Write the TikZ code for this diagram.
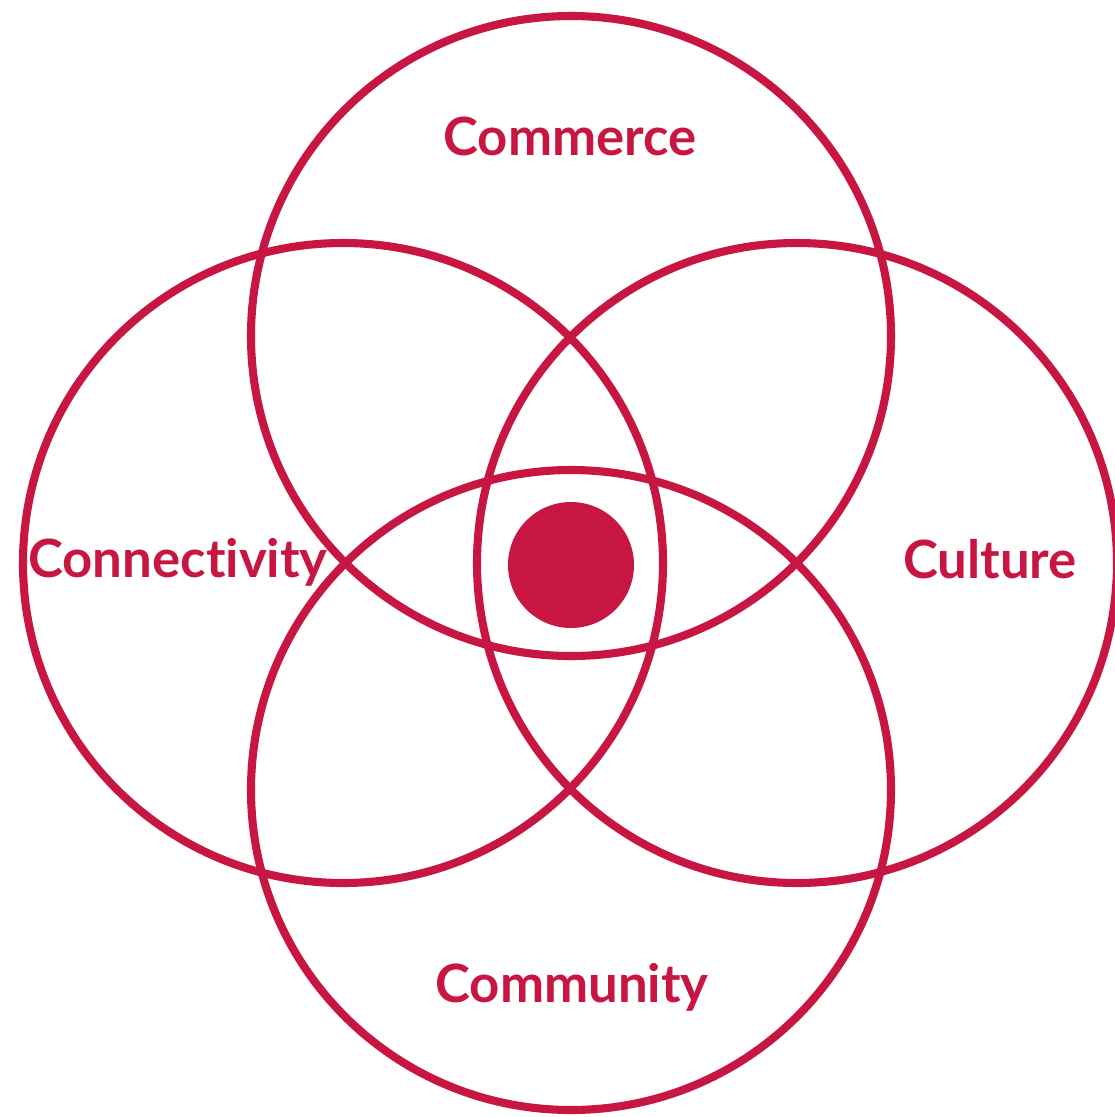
\documentclass[tikz,border=0pt]{standalone}
\usepackage{fontspec}
\setmainfont{Lato}[Ligatures=NoCommon]
\usepackage{tikz}
\usepackage{xcolor}
\definecolor{crimson}{RGB}{200,22,66}

\tikzset{
  ring/.style={draw=crimson, line width=2.3pt},
  label4/.style={text=crimson, font=\fontsize{15}{18}\selectfont\bfseries, anchor=base}
}

\begin{document}
\begin{tikzpicture}[x=0.01cm, y=-0.01cm]
\useasboundingbox (0,0) rectangle (1115,1117);
\draw [ring] (571,336) circle [radius=320];
\draw [ring] (571,790) circle [radius=320];
\draw [ring] (343,563) circle [radius=320];
\draw [ring] (797,563) circle [radius=320];
\draw [fill=crimson, draw=none] (571,565) circle [radius=63];
\node [label4] (commerce) at (570,155) {Commerce};
\node [label4] (connectivity) at (178,577) {Connectivity};
\node [label4] (culture) at (990,578) {Culture};
\node [label4] (community) at (572,1002) {Community};
\end{tikzpicture}
\end{document}
